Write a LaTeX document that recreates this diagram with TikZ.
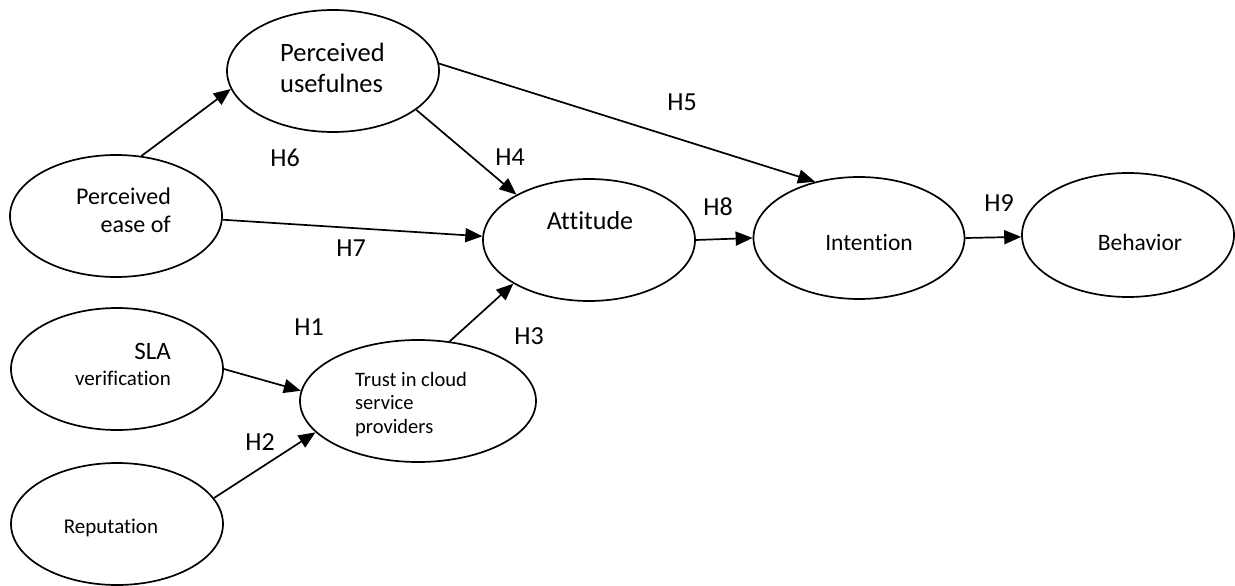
\documentclass[tikz,border=0pt]{standalone}
\usepackage{fontspec}
\setmainfont{Carlito}[Ligatures={NoCommon}]
\usetikzlibrary{shapes.geometric,arrows.meta}
\tikzset{
  construct/.style={ellipse, draw, line width=1.7pt, inner sep=0pt},
  link/.style={line width=1.7pt, -{Triangle[length=17pt,width=14pt]}},
  hyp/.style={font=\fontsize{26}{31}\selectfont, inner sep=0pt, anchor=mid},
  txt/.style={inner sep=0pt}
}
\begin{document}
\begin{tikzpicture}[x=1pt,y=-1pt]
\useasboundingbox (0,0) rectangle (1235,586);
% ellipses
\node[construct, minimum width=212pt, minimum height=122pt] (pu) at (333,71) {};
\node[construct, minimum width=212pt, minimum height=122pt] (peou) at (116,216) {};
\node[construct, minimum width=212pt, minimum height=122pt] (att) at (589,240) {};
\node[construct, minimum width=211pt, minimum height=122pt] (int) at (859,238) {};
\node[construct, minimum width=212pt, minimum height=124pt] (beh) at (1128,235) {};
\node[construct, minimum width=212pt, minimum height=122pt] (sla) at (117,369) {};
\node[construct, minimum width=212pt, minimum height=122pt] (rep) at (117,524) {};
\node[construct, minimum width=236pt, minimum height=122pt] (trust) at (418,401) {};
% texts
\node[txt, anchor=mid west, font=\fontsize{26.5}{31}\selectfont] (tpu1) at (280,59) {Perceived};
\node[txt, anchor=mid west, font=\fontsize{26.5}{31}\selectfont] (tpu2) at (280,90) {usefulnes};
\node[txt, anchor=mid east, font=\fontsize{24}{29}\selectfont] (tpe1) at (171,202) {Perceived};
\node[txt, anchor=mid east, font=\fontsize{24}{29}\selectfont] (tpe2) at (171,230) {ease of};
\node[txt, anchor=mid, font=\fontsize{26}{31}\selectfont] (tatt) at (590,227) {Attitude};
\node[txt, anchor=mid, font=\fontsize{23.5}{28}\selectfont] (tint) at (869,248) {Intention};
\node[txt, anchor=mid, font=\fontsize{23.5}{28}\selectfont] (tbeh) at (1140,248) {Behavior};
\node[txt, anchor=mid east, font=\fontsize{25}{30}\selectfont] (tsla1) at (171,357) {SLA};
\node[txt, anchor=mid east, font=\fontsize{21}{25}\selectfont] (tsla2) at (171,383) {verification};
\node[txt, anchor=mid, font=\fontsize{21}{25}\selectfont] (trep) at (111,531) {Reputation};
\node[txt, anchor=mid west, font=\fontsize{20.5}{24}\selectfont] (ttr1) at (355,384) {Trust in cloud};
\node[txt, anchor=mid west, font=\fontsize{20.5}{24}\selectfont] (ttr2) at (355,407) {service};
\node[txt, anchor=mid west, font=\fontsize{20.5}{24}\selectfont] (ttr3) at (355,431) {providers};
% connectors
\draw[link] (peou.67.4) -- (pu.190.8);
\draw[link] (pu.-25.2) -- (att.148.4);
\draw[link] (peou.-2.7) -- (att.178.4);
\draw[link] (pu.4.8) -- (int.128.7);
\draw[link] (att.-0.5) -- (int.180);
\draw[link] (int.-0.5) -- (beh.181);
\draw[link] (sla.0) -- (trust.175.7);
\draw[link] (rep.15) -- (trust.197.1);
\draw[link] (trust.62.3) -- (att.210.5);
% hypothesis labels
\node[hyp] (h1) at (309,333) {H1};
\node[hyp] (h2) at (260,448) {H2};
\node[hyp] (h3) at (529,342) {H3};
\node[hyp] (h4) at (510,163) {H4};
\node[hyp] (h5) at (682,108) {H5};
\node[hyp] (h6) at (285,164) {H6};
\node[hyp] (h7) at (351,254) {H7};
\node[hyp] (h8) at (718,213) {H8};
\node[hyp] (h9) at (999,209) {H9};
\end{tikzpicture}
\end{document}
